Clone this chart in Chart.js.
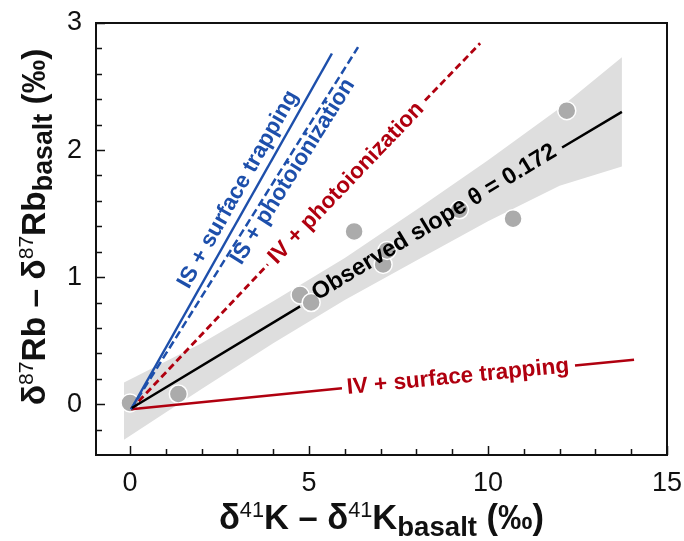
<!DOCTYPE html>
<html>
<head>
<meta charset="utf-8">
<script src="https://cdn.jsdelivr.net/npm/chart.js@4.4.1/dist/chart.umd.min.js"></script>
<style>
  html, body { margin: 0; padding: 0; background: #fff; }
  #wrap { width: 684px; height: 541px; }
</style>
</head>
<body>
<div id="wrap"><canvas id="chart" width="684" height="541"></canvas></div>
<script>
"use strict";

// measured samples
const obsX = [0, 1.35, 4.75, 5.06, 6.26, 7.07, 7.18, 9.2, 10.7, 12.2];
const obsY = [0.01, 0.08, 0.86, 0.80, 1.36, 1.10, 1.21, 1.53, 1.46, 2.31];

// regression line (gap where the label sits)
const fitX = [0.05, 4.75, 8, 12.07, 13.74];
const fitY = [-0.03, 0.77, null, 2.02, 2.30];

// confidence band
const bandX = [-0.17, 2, 4, 6, 8, 10, 12, 13.74];
const bandUpper = [0.17, 0.48, 0.81, 1.15, 1.53, 1.92, 2.33, 2.73];
const bandLower = [-0.28, 0.12, 0.48, 0.82, 1.13, 1.44, 1.72, 1.87];

// model lines
const isSurfX = [0.03, 5.64];
const isSurfY = [-0.04, 2.76];
const isPhotoX = [0.03, 6.37];
const isPhotoY = [-0.04, 2.81];
const ivPhotoX = [0.03, 3.85, 6, 8.24, 9.78];
const ivPhotoY = [-0.04, 1.10, null, 2.39, 2.84];
const ivSurfX = [0.03, 5.92, 9, 12.43, 14.08];
const ivSurfY = [-0.04, 0.125, null, 0.305, 0.35];

// ticks
const xMajor = [0, 5, 10, 15];
const xMinor = [0, 1, 2, 3, 4, 5, 6, 7, 8, 9, 10, 11, 12, 13, 14, 15];
const yMajor = [0, 1, 2, 3];
const yMinor = [-0.2, 0, 0.2, 0.4, 0.6, 0.8, 1, 1.2, 1.4, 1.6, 1.8, 2, 2.2, 2.4, 2.6, 2.8, 3];

const BLUE = "#1d4fab";
const RED = "#b0000f";
const FAM = "'Liberation Sans', Arial, sans-serif";

function pts(xs, ys) {
    return xs.map((x, i) => ({ x: x, y: ys[i] }));
}

// text labels placed along the lines
const notes = [
    { text: "IS + surface trapping", x: 3.02, y: 1.69, color: BLUE, lx: isSurfX, ly: isSurfY },
    { text: "IS + photoionization", x: 4.55, y: 1.83, color: BLUE, lx: isPhotoX, ly: isPhotoY },
    { text: "IV + photoionization", x: 6.04, y: 1.74, color: RED, lx: [0.03, 9.78], ly: [-0.04, 2.84] },
    { text: "Observed slope \u03b8 = 0.172", x: 8.5, y: 1.43, color: "#000", lx: [0.05, 13.74], ly: [-0.03, 2.30], size: 23.5 },
    { text: "IV + surface trapping", x: 9.16, y: 0.214, color: RED, lx: [0.03, 14.08], ly: [-0.04, 0.35] },
];

function drawRich(ctx, parts, S) {
    let total = 0;
    parts.forEach(p => {
        p.size = S * (p.scale || 1);
        p.font = (p.light ? "" : "bold ") + p.size + "px " + FAM;
        ctx.font = p.font;
        p.w = ctx.measureText(p.t).width;
        total += p.w;
    });
    let x = -total / 2;
    parts.forEach(p => {
        ctx.font = p.font;
        ctx.fillText(p.t, x, (p.dy || 0) * S);
        x += p.w;
    });
}

const decor = {
    id: "decor",
    afterDatasetsDraw(chart) {
        const ctx = chart.ctx;
        const xs = chart.scales.x, ys = chart.scales.y;
        ctx.save();
        notes.forEach(n => {
            const x0 = xs.getPixelForValue(n.lx[0]), y0 = ys.getPixelForValue(n.ly[0]);
            const x1 = xs.getPixelForValue(n.lx[n.lx.length - 1]), y1 = ys.getPixelForValue(n.ly[n.ly.length - 1]);
            const ang = Math.atan2(y1 - y0, x1 - x0);
            ctx.save();
            ctx.translate(xs.getPixelForValue(n.x), ys.getPixelForValue(n.y));
            ctx.rotate(ang);
            ctx.font = "bold " + (n.size || 22.5) + "px " + FAM;
            ctx.fillStyle = n.color;
            ctx.textAlign = "center";
            ctx.textBaseline = "middle";
            ctx.fillText(n.text, 0, 0);
            ctx.restore();
        });
        ctx.restore();
    },
    afterDraw(chart) {
        const ctx = chart.ctx;
        const a = chart.chartArea;
        const xs = chart.scales.x, ys = chart.scales.y;
        ctx.save();
        ctx.strokeStyle = "#111";
        ctx.lineWidth = 2;
        ctx.strokeRect(a.left, a.top, a.right - a.left, a.bottom - a.top);
        ctx.lineWidth = 1.5;
        ctx.beginPath();
        xMinor.forEach(v => {
            const p = Math.round(xs.getPixelForValue(v)) + 0.5;
            const len = xMajor.includes(v) ? 9 : 6;
            ctx.moveTo(p, a.bottom);
            ctx.lineTo(p, a.bottom - len);
        });
        yMinor.forEach(v => {
            const p = Math.round(ys.getPixelForValue(v)) + 0.5;
            const len = yMajor.includes(v) ? 9 : 6;
            ctx.moveTo(a.left, p);
            ctx.lineTo(a.left + len, p);
        });
        ctx.stroke();

        // axis titles
        ctx.fillStyle = "#111";
        ctx.textAlign = "left";
        ctx.textBaseline = "alphabetic";
        ctx.save();
        ctx.translate((a.left + a.right) / 2, 529);
        drawRich(ctx, [
            { t: "\u03b4" }, { t: "41", scale: 0.63, dy: -0.36, light: true },
            { t: "K \u2013 \u03b4" }, { t: "41", scale: 0.63, dy: -0.36, light: true },
            { t: "K" }, { t: "basalt", scale: 0.8, dy: 0.2 }, { t: " (\u2030)" }
        ], 34.5);
        ctx.restore();
        ctx.save();
        ctx.translate(45, 227);
        ctx.rotate(-Math.PI / 2);
        drawRich(ctx, [
            { t: "\u03b4" }, { t: "87", scale: 0.63, dy: -0.36, light: true },
            { t: "Rb \u2013 \u03b4" }, { t: "87", scale: 0.63, dy: -0.36, light: true },
            { t: "Rb" }, { t: "basalt", scale: 0.8, dy: 0.2 }, { t: " (\u2030)" }
        ], 33.5);
        ctx.restore();
        ctx.restore();
    }
};

const lineBase = { showLine: true, pointRadius: 0, borderWidth: 2.5, spanGaps: false, fill: false, order: 1 };

new Chart(document.getElementById("chart").getContext("2d"), {
    type: "scatter",
    data: {
        datasets: [
            Object.assign({}, lineBase, { data: pts(bandX, bandUpper), borderWidth: 0, backgroundColor: "#dedede", fill: "+1", order: 10 }),
            Object.assign({}, lineBase, { data: pts(bandX, bandLower), borderWidth: 0, order: 10 }),
            { data: pts(obsX, obsY), pointRadius: 9, pointBackgroundColor: "#ababab", pointBorderColor: "#fff", pointBorderWidth: 1.5, order: 5 },
            Object.assign({}, lineBase, { data: pts(fitX, fitY), borderColor: "#000" }),
            Object.assign({}, lineBase, { data: pts(isSurfX, isSurfY), borderColor: BLUE }),
            Object.assign({}, lineBase, { data: pts(isPhotoX, isPhotoY), borderColor: BLUE, borderDash: [8, 4] }),
            Object.assign({}, lineBase, { data: pts(ivPhotoX, ivPhotoY), borderColor: RED, borderWidth: 2.8, borderDash: [7, 4] }),
            Object.assign({}, lineBase, { data: pts(ivSurfX, ivSurfY), borderColor: RED }),
        ],
    },
    options: {
        responsive: false,
        animation: false,
        layout: { padding: { left: 0, top: 23, right: 17, bottom: 0 } },
        scales: {
            x: {
                type: "linear",
                min: -0.95,
                max: 15,
                grid: { display: false, drawTicks: false },
                border: { display: false },
                ticks: { font: { size: 27, family: FAM }, color: "#111", padding: 12 },
                afterBuildTicks: s => { s.ticks = xMajor.map(v => ({ value: v })); },
                afterFit: s => { s.height = 86; s.paddingLeft = 0; s.paddingRight = 0; },
            },
            y: {
                type: "linear",
                min: -0.4,
                max: 3,
                grid: { display: false, drawTicks: false },
                border: { display: false },
                ticks: { font: { size: 27, family: FAM }, color: "#111", padding: 14 },
                afterBuildTicks: s => { s.ticks = yMajor.map(v => ({ value: v })); },
                afterFit: s => { s.width = 96; s.paddingTop = 0; s.paddingBottom = 0; },
            },
        },
        plugins: {
            legend: { display: false },
            tooltip: { enabled: false },
        },
    },
    plugins: [decor],
});
</script>
</body>
</html>
